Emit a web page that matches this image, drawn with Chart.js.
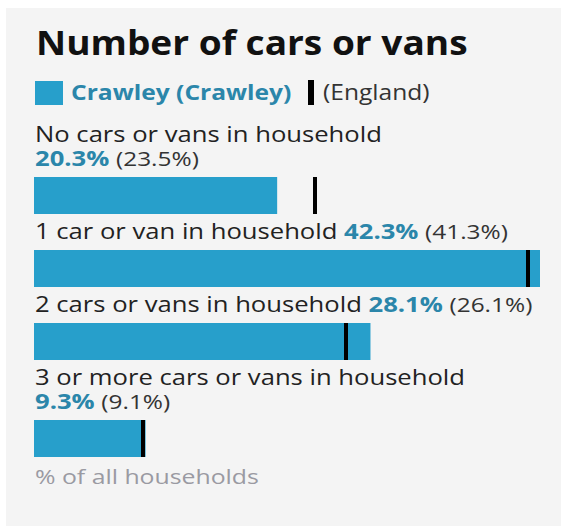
<!DOCTYPE html>
<html>
<head>
<meta charset="utf-8">
<script src="https://cdn.jsdelivr.net/npm/chart.js@4.4.1/dist/chart.umd.min.js"></script>
<style>
  body { margin: 0; background: #fff; font-family: "Open Sans", sans-serif; color: #222; }
  #panel { position: absolute; left: 6px; top: 8px; width: 555px; height: 518px; background: #f4f4f4; }
  .wide { transform-origin: 0 0; }
  .title { position: absolute; left: 30px; top: 14px; font-size: 34px; line-height: 40px; font-weight: 700; color: #111; white-space: nowrap; transform: scaleX(1.09); }
  .legend { position: absolute; left: 29px; top: 71px; height: 26px; width: 520px; }
  .swatch { position: absolute; left: 0; top: 2px; width: 28px; height: 24px; background: #279fcb; }
  .lname { position: absolute; left: 36px; top: 0; font-size: 21px; line-height: 26px; font-weight: 700; color: #2b86aa; white-space: nowrap; transform: scaleX(1.17); }
  .tick { position: absolute; left: 273px; top: 1px; width: 6px; height: 25px; background: #000; }
  .lref { position: absolute; left: 288px; top: 0; font-size: 21px; line-height: 26px; color: #333; white-space: nowrap; transform: scaleX(1.17); }
  #rows { position: absolute; left: 28px; top: 114px; width: 512px; }
  .label { font-size: 21px; line-height: 24px; margin-left: 1px; width: 415px; margin-bottom: 6px; transform: scaleX(1.22); }
  .label b { color: #2b86aa; }
  .pair { white-space: nowrap; }
  .ref { font-size: 20px; color: #333; }
  canvas { display: block; margin-bottom: 5px; }
  .note { font-size: 20px; line-height: 24px; color: #9a9aa2; margin-top: 8px; margin-left: 1px; transform: scaleX(1.24); }
</style>
</head>
<body>
<div id="panel">
  <div class="title wide">Number of cars or vans</div>
  <div class="legend">
    <div class="swatch"></div>
    <div class="lname wide">Crawley (Crawley)</div>
    <div class="tick"></div>
    <div class="lref wide">(England)</div>
  </div>
  <div id="rows"></div>
</div>
<script>
const categories = [
  'No cars or vans in household',
  '1 car or van in household',
  '2 cars or vans in household',
  '3 or more cars or vans in household'
];
const crawley = [20.3, 42.3, 28.1, 9.3];
const england = [23.5, 41.3, 26.1, 9.1];
const unitNote = '% of all households';

const xMax = Math.max(...crawley);
const rows = document.getElementById('rows');

function fmt(v) {
    return v.toFixed(1) + '%';
}

// black tick for the England figure, placed with the chart's own x scale
const englandMarker = {
    id: 'englandMarker',
    afterDatasetsDraw(chart, args, opts) {
        const bar = chart.getDatasetMeta(0).data[0];
        if (!bar) return;
        const { y, height } = bar.getProps(['y', 'height'], true);
        const x = chart.scales.x.getPixelForValue(opts.value);
        const ctx = chart.ctx;
        ctx.save();
        ctx.fillStyle = '#000';
        ctx.fillRect(Math.round(x) - 2, y - height / 2, 4, height);
        ctx.restore();
    },
};

function makeBar(canvas, i) {
    return new Chart(canvas, {
        type: 'bar',
        data: {
            labels: [categories[i]],
            datasets: [
                {
                    data: [crawley[i]],
                    backgroundColor: '#279fcb',
                    barPercentage: 1,
                    categoryPercentage: 1,
                },
            ],
        },
        options: {
            indexAxis: 'y',
            responsive: false,
            animation: false,
            events: [],
            layout: { padding: 0 },
            plugins: {
                legend: { display: false },
                tooltip: { enabled: false },
                englandMarker: { value: england[i] },
            },
            scales: {
                x: { display: false, min: 0, max: xMax },
                y: { display: false },
            },
        },
        plugins: [englandMarker],
    });
}

categories.forEach((name, i) => {
    const label = document.createElement('div');
    label.className = 'label wide';
    label.innerHTML = name + ' <span class="pair"><b>' + fmt(crawley[i]) + '</b> <span class="ref">(' + fmt(england[i]) + ')</span></span>';
    rows.appendChild(label);

    const canvas = document.createElement('canvas');
    canvas.width = 506;
    canvas.height = 37;
    rows.appendChild(canvas);
    makeBar(canvas, i);
});

const note = document.createElement('div');
note.className = 'note wide';
note.textContent = unitNote;
rows.appendChild(note);
</script>
</body>
</html>
